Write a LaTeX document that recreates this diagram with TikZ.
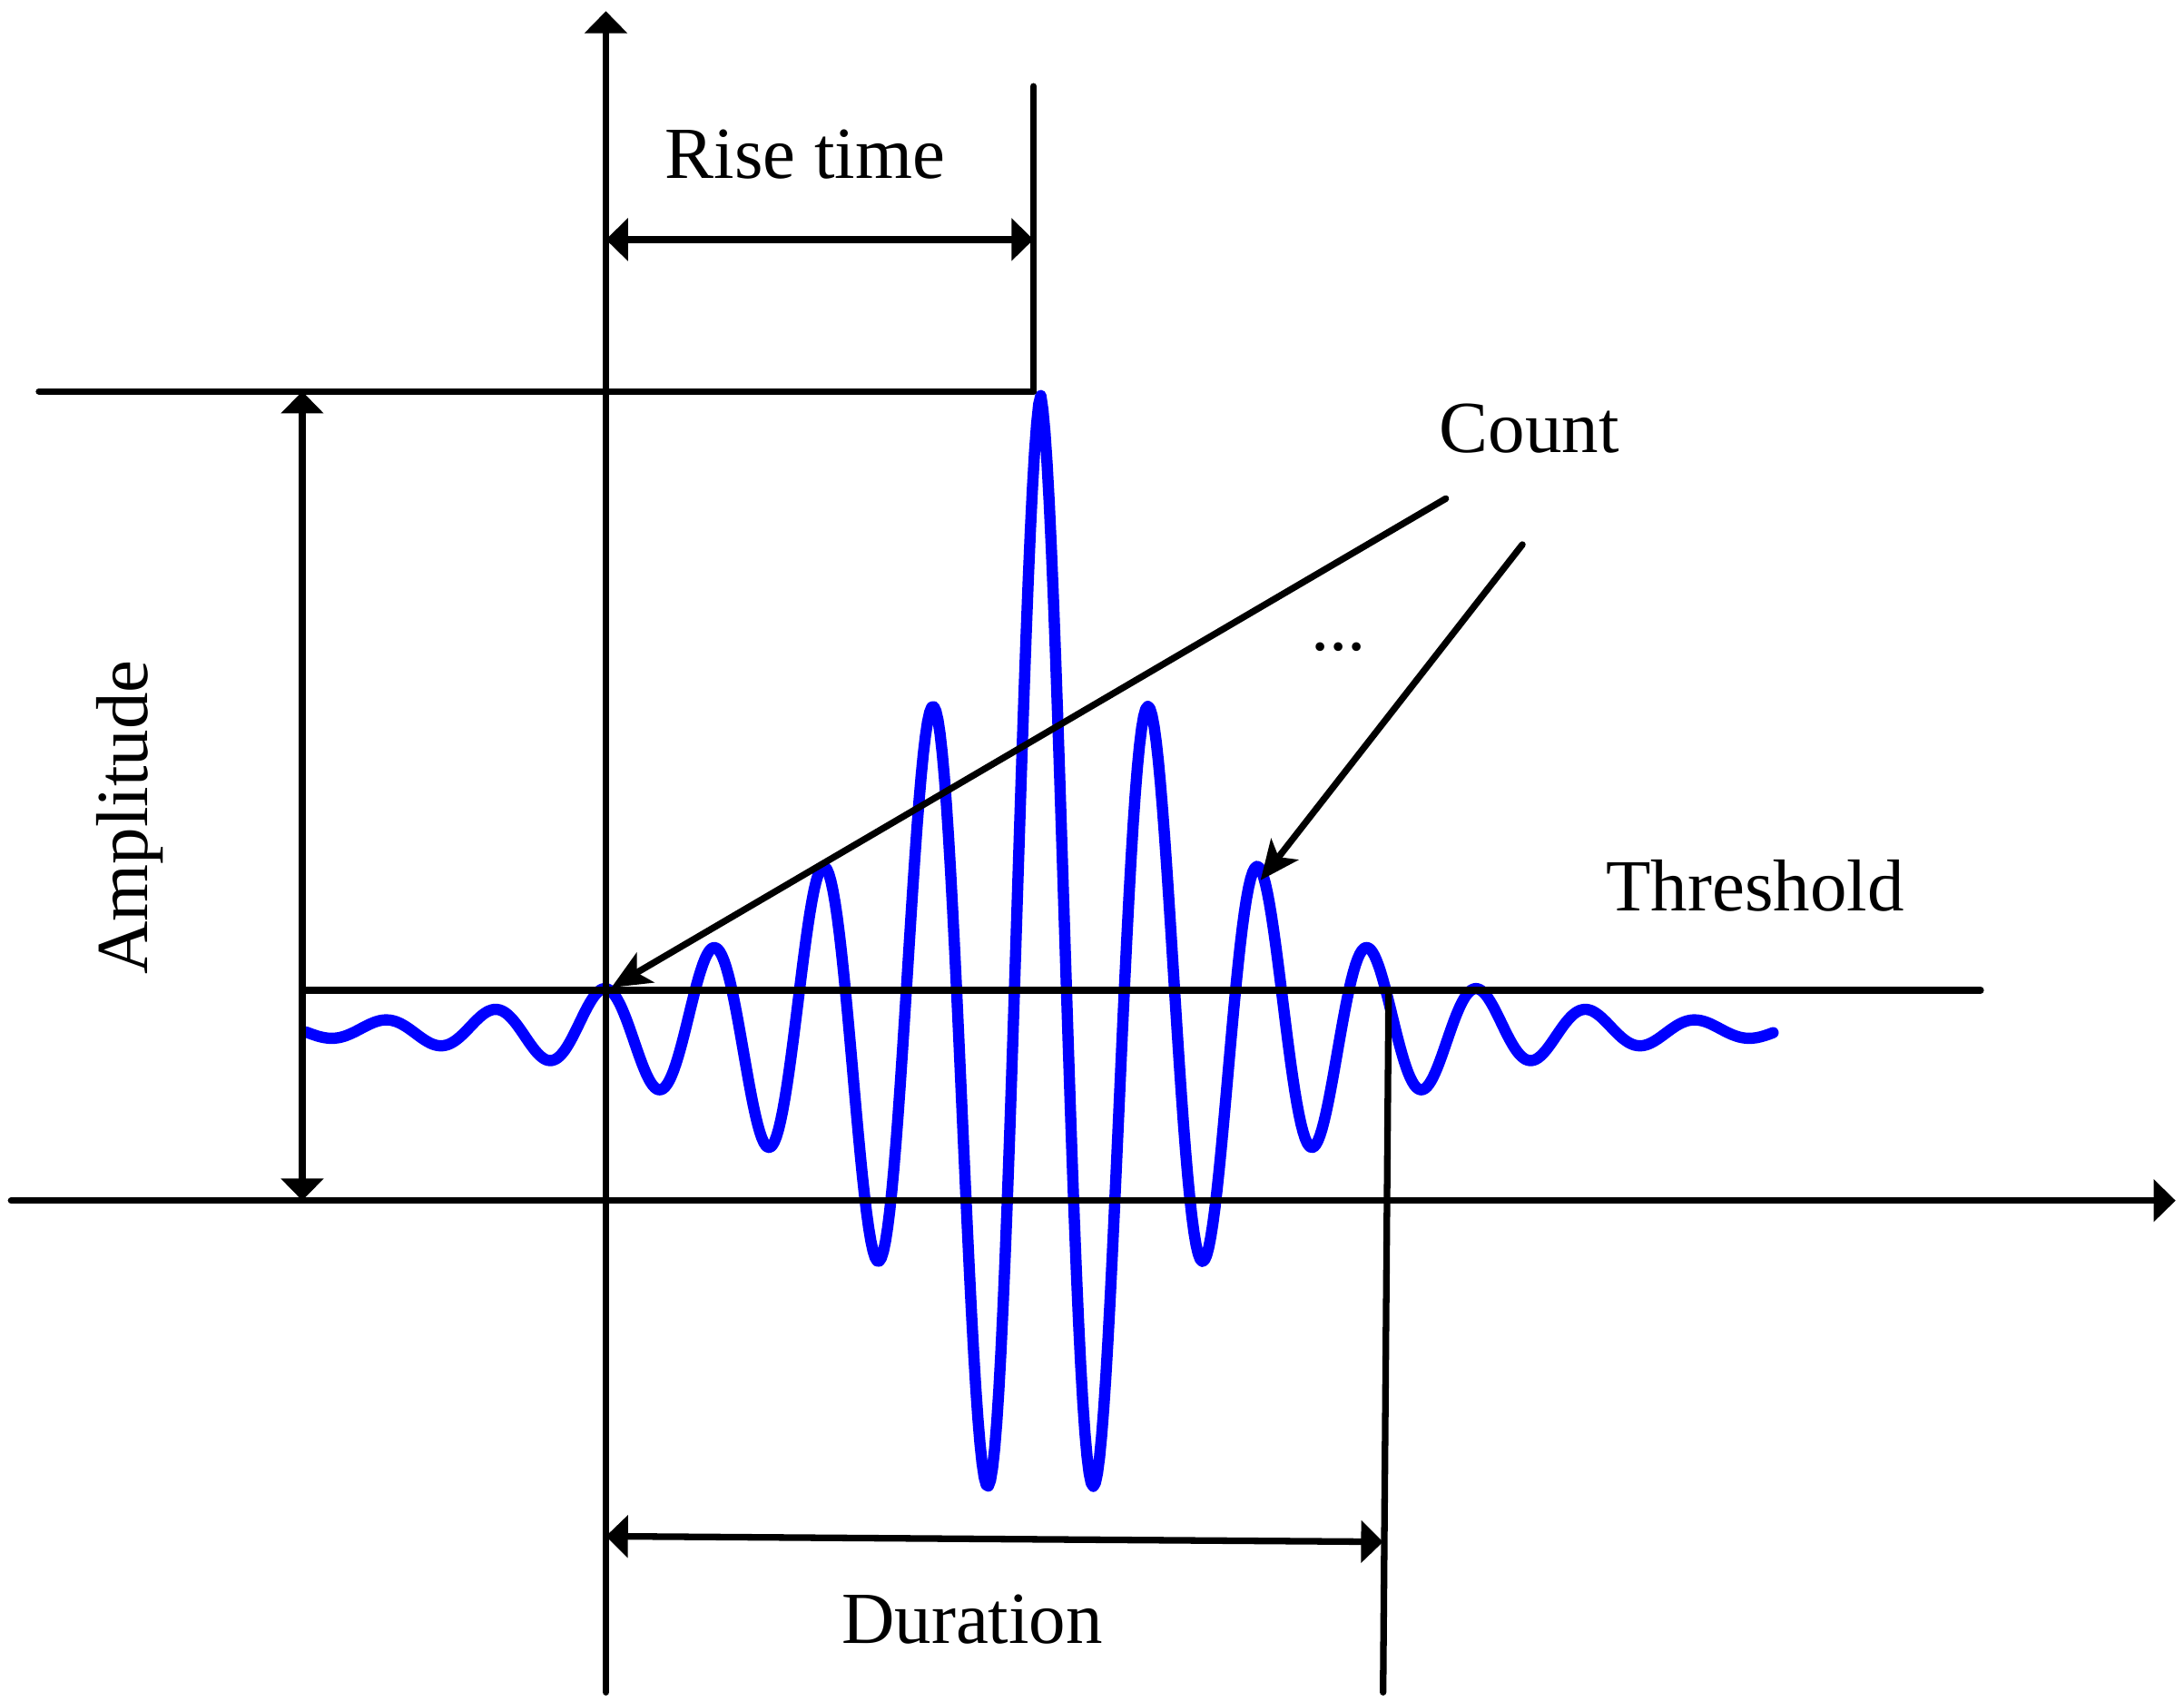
\documentclass[tikz,border=0pt]{standalone}
\usepackage{fontspec}
\setmainfont{Liberation Serif}
\usetikzlibrary{arrows.meta, calc}

\begin{document}
\begin{tikzpicture}
[x=0.01cm, y=-0.01cm, line width=1.35pt, line cap=round,
 lbl/.style={font=\fontsize{15}{18}\selectfont, inner sep=0pt},
 axis/.style={-{Triangle[length=4.5pt,width=8.5pt]}},
 dim/.style={{Triangle[length=4.5pt,width=8.5pt]}-{Triangle[length=4.5pt,width=8.5pt]}},
 pointer/.style={-{Stealth[length=8pt,width=7pt,inset=2pt]}},
 wave/.style={blue, line width=2.3pt, line join=round}]
\useasboundingbox (0,0) rectangle (1568,1221);

\coordinate (xstart) at (8,862);
\coordinate (xend) at (1562,862);
\coordinate (ybot) at (435,1215);
\coordinate (ytop) at (435,8);
\coordinate (peakL) at (28,281);
\coordinate (peakR) at (742,281);
\coordinate (riseTop) at (742,62);
\coordinate (riseL) at (435,172);
\coordinate (riseR) at (742,172);
\coordinate (thrL) at (217,711);
\coordinate (thrR) at (1422,711);
\coordinate (ampTop) at (217,281);
\coordinate (ampBot) at (217,862);
\coordinate (durTop) at (997,711);
\coordinate (durBot) at (993,1215);
\coordinate (durL) at (435,1103);
\coordinate (durR) at (993,1107);
\coordinate (cnt1) at (1038,358);
\coordinate (hit1) at (439,709);
\coordinate (cnt2) at (1093,391);
\coordinate (hit2) at (905,632);

\draw [wave] plot [domain=220:1273, samples=700]
	(\x, {740-457*exp(-abs(\x-747)/115.4)*cos(4.586*(\x-747))});

\draw [axis] (xstart) to (xend);
\draw [axis] (ybot) to (ytop);
\draw (peakL) to (peakR);
\draw (riseTop) to (peakR);
\draw (thrL) to (thrR);
\draw (durTop) to (durBot);

\draw [dim] (riseL) to (riseR);
\draw [dim] (ampTop) to (ampBot);
\draw [dim] (durL) to (durR);

\draw [pointer] (cnt1) to (hit1);
\draw [pointer] (cnt2) to (hit2);

\node [lbl, anchor=base] (rise) at (578,128) {Rise time};
\node [lbl, anchor=base] (count) at (1098,325) {Count};
\node [lbl, anchor=base] (dots) at (961,467) {...};
\node [lbl, anchor=base] (thr) at (1260,654) {Threshold};
\node [lbl, anchor=base] (dur) at (698,1180) {Duration};
\node [lbl, anchor=base, rotate=90] (amp) at (106,587) {Amplitude};
\end{tikzpicture}
\end{document}
